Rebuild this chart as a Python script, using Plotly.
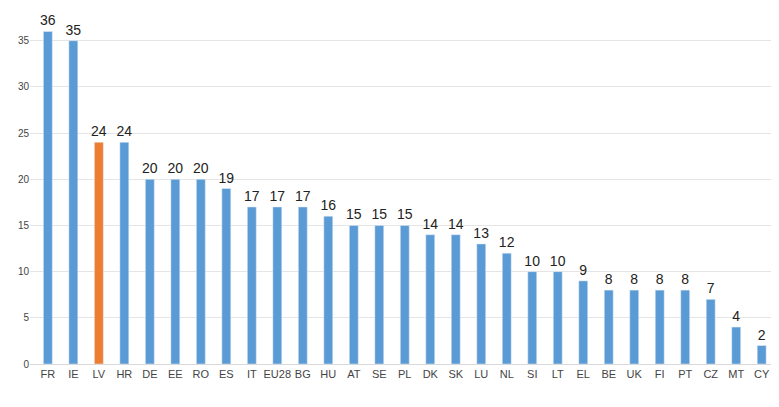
import plotly.graph_objects as go

countries = ["FR","IE","LV","HR","DE","EE","RO","ES","IT","EU28","BG","HU","AT","SE","PL",
             "DK","SK","LU","NL","SI","LT","EL","BE","UK","FI","PT","CZ","MT","CY"]
values = [36,35,24,24,20,20,20,19,17,17,17,16,15,15,15,14,14,13,12,10,10,9,8,8,8,8,7,4,2]
highlight = "LV"

colors = ["#ED7D31" if c == highlight else "#5B9BD5" for c in countries]

fig = go.Figure(go.Bar(
    x=countries, y=values, marker_color=colors, width=0.35,
    text=values, textposition="outside", cliponaxis=False,
    textfont=dict(size=14, color="#222"),
))
fig.update_layout(
    width=779, height=407,
    margin=dict(l=22, r=10, t=5, b=51),
    plot_bgcolor="white", paper_bgcolor="white",
    font=dict(family="Liberation Sans, Arial", color="#444"),
    showlegend=False,
    uniformtext=dict(minsize=14, mode="show"),
)
fig.update_xaxes(tickfont=dict(size=11), showline=True, linecolor="#d9d9d9", ticks="",
                 range=[-0.7, 28.6])
fig.update_yaxes(range=[0, 38], tickvals=[0,5,10,15,20,25,30,35], tickfont=dict(size=10),
                 gridcolor="#e5e5e5", zeroline=False)
fig.write_html("out.html")
